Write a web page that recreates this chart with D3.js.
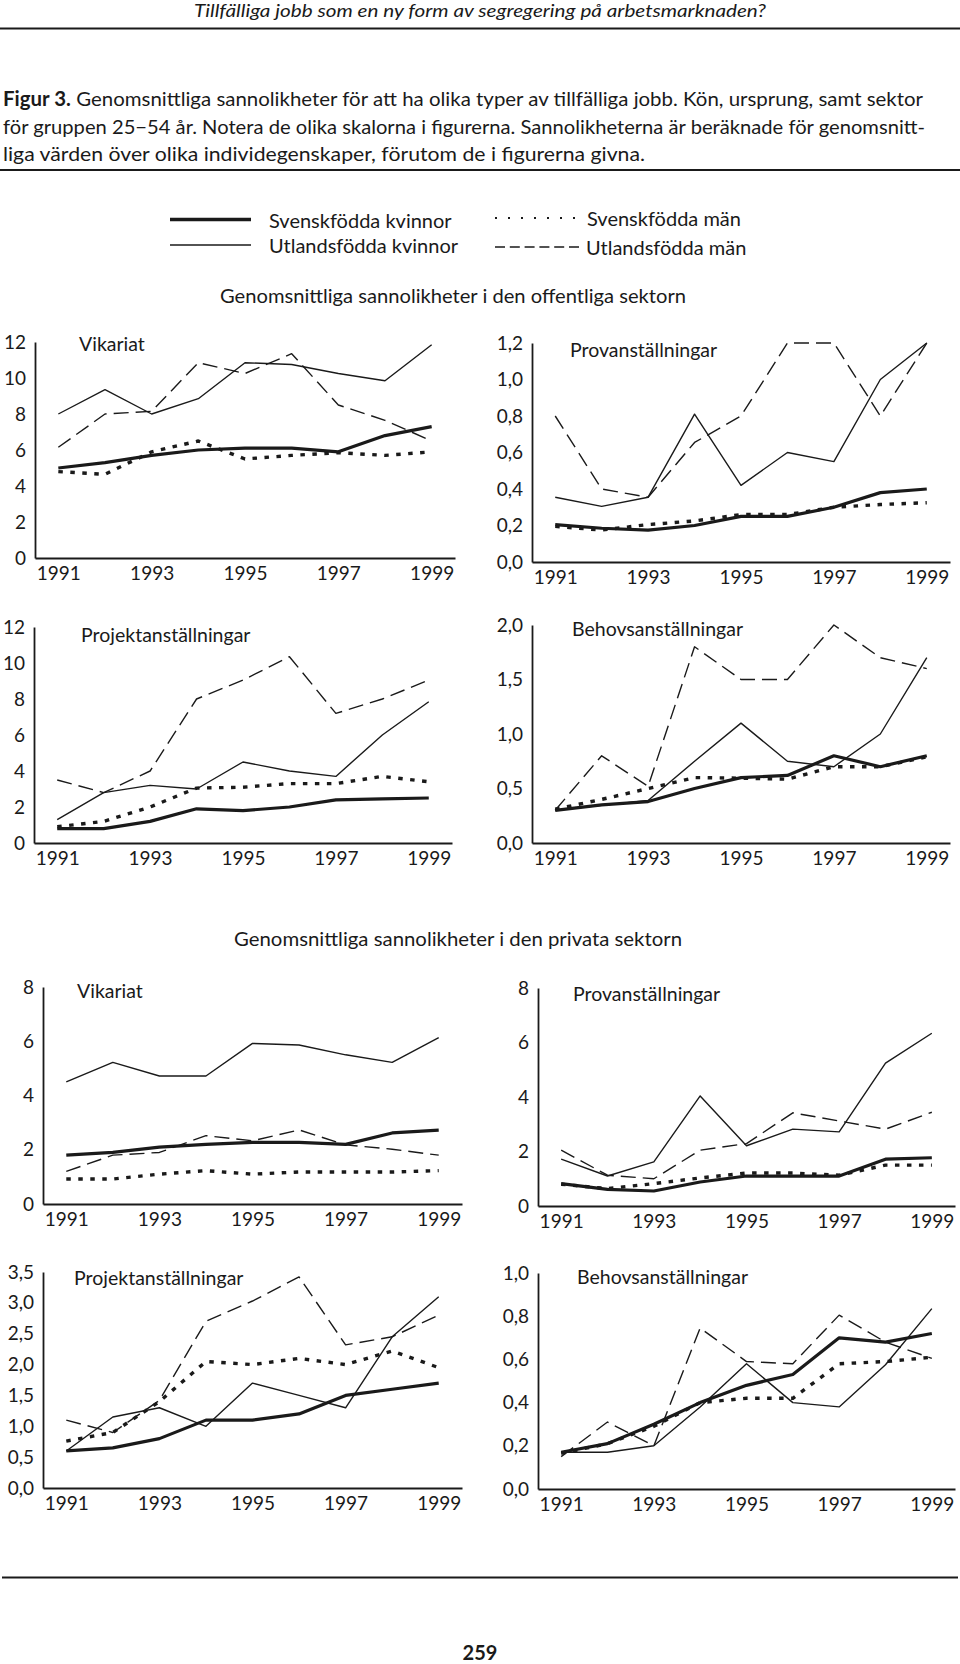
<!DOCTYPE html>
<html><head><meta charset="utf-8">
<script src="https://cdn.jsdelivr.net/npm/d3@7"></script>
<style>
html,body{margin:0;padding:0;background:#fff;}
svg{display:block;}
text{font-family:Lato,"Noto Sans",sans-serif;fill:#1a1a1a;}
</style></head><body>
<svg id="c" width="960" height="1664"></svg>
<script>
// ---------- data ----------
const years = [1991,1992,1993,1994,1995,1996,1997,1998,1999];
const yearLabels = [1991,1993,1995,1997,1999];
const seriesNames = ["Svenskfödda kvinnor","Utlandsfödda kvinnor","Svenskfödda män","Utlandsfödda män"];

// Offentliga sektorn
const offVikSvK = [5.0,5.3,5.7,6.0,6.1,6.1,5.9,6.8,7.3];
const offVikUtK = [8.0,9.35,8.0,8.85,10.85,10.75,10.25,9.85,11.85];
const offVikSvM = [4.8,4.65,5.9,6.5,5.5,5.7,5.85,5.7,5.9];
const offVikUtM = [6.15,8.0,8.15,10.85,10.25,11.35,8.5,7.65,6.5];
const offVikTicks = [0,2,4,6,8,10,12];

const offProvSvK = [0.205,0.185,0.175,0.2,0.25,0.25,0.3,0.38,0.4];
const offProvUtK = [0.355,0.305,0.355,0.81,0.42,0.6,0.55,1.0,1.2];
const offProvSvM = [0.195,0.175,0.205,0.225,0.26,0.26,0.3,0.315,0.325];
const offProvUtM = [0.8,0.4,0.355,0.655,0.8,1.2,1.2,0.8,1.2];
const offProvTicks = [0,0.2,0.4,0.6,0.8,1.0,1.2];

const offProjSvK = [0.8,0.8,1.2,1.9,1.8,2.0,2.4,2.45,2.5];
const offProjUtK = [1.3,2.8,3.2,3.0,4.5,4.0,3.7,6.0,7.85];
const offProjSvM = [0.9,1.2,2.0,3.05,3.1,3.3,3.3,3.7,3.4];
const offProjUtM = [3.5,2.8,4.0,8.0,9.05,10.35,7.2,8.0,9.05];
const offProjTicks = [0,2,4,6,8,10,12];

const offBehSvK = [0.3,0.35,0.38,0.5,0.6,0.62,0.8,0.7,0.8];
const offBehUtK = [0.3,0.345,0.39,0.75,1.1,0.75,0.7,1.0,1.7];
const offBehSvM = [0.31,0.4,0.5,0.6,0.595,0.585,0.7,0.7,0.79];
const offBehUtM = [0.3,0.8,0.52,1.8,1.5,1.5,2.0,1.7,1.6];
const offBehTicks = [0,0.5,1.0,1.5,2.0];

// Privata sektorn
const privVikSvK = [1.8,1.9,2.1,2.2,2.27,2.27,2.2,2.62,2.72];
const privVikUtK = [4.5,5.22,4.72,4.72,5.92,5.86,5.5,5.22,6.13];
const privVikSvM = [0.92,0.92,1.1,1.23,1.1,1.18,1.18,1.18,1.23];
const privVikUtM = [1.2,1.8,1.9,2.52,2.33,2.73,2.18,2.02,1.8];
const privVikTicks = [0,2,4,6,8];

const privProvSvK = [0.82,0.61,0.55,0.88,1.1,1.1,1.1,1.72,1.77];
const privProvUtK = [1.72,1.1,1.62,4.04,2.21,2.82,2.72,5.24,6.34];
const privProvSvM = [0.8,0.64,0.82,1.03,1.21,1.21,1.13,1.5,1.5];
const privProvUtM = [2.05,1.13,1.0,2.05,2.29,3.42,3.12,2.82,3.44];
const privProvTicks = [0,2,4,6,8];

const privProjSvK = [0.6,0.65,0.8,1.1,1.1,1.2,1.5,1.6,1.7];
const privProjUtK = [0.6,1.15,1.3,1.0,1.7,1.5,1.3,2.45,3.1];
const privProjSvM = [0.76,0.9,1.4,2.05,2.0,2.1,2.0,2.22,1.95];
const privProjUtM = [1.1,0.9,1.42,2.7,3.03,3.42,2.32,2.45,2.8];
const privProjTicks = [0,0.5,1.0,1.5,2.0,2.5,3.0,3.5];

const privBehSvK = [0.17,0.21,0.3,0.4,0.48,0.53,0.7,0.68,0.72];
const privBehUtK = [0.17,0.17,0.2,0.38,0.58,0.4,0.38,0.575,0.835];
const privBehSvM = [0.165,0.21,0.29,0.4,0.42,0.42,0.58,0.59,0.61];
const privBehUtM = [0.15,0.31,0.2,0.745,0.59,0.58,0.805,0.68,0.605];
const privBehTicks = [0,0.2,0.4,0.6,0.8,1.0];

// ---------- styles ----------
const styles = [
  {w:3.2, dash:null},          // Svenskfödda kvinnor
  {w:1.4, dash:null},          // Utlandsfödda kvinnor
  {w:3.4, dash:"4.5,7.5"},     // Svenskfödda män
  {w:1.4, dash:"15,7"}         // Utlandsfödda män
];
const ink = "#1a1a1a";

const svg = d3.select("#c");
svg.append("rect").attr("width",960).attr("height",1664).attr("fill","#fff");

// header
svg.append("text").attr("x",480).attr("y",11).attr("dy","0.35em")
  .attr("text-anchor","middle").attr("font-style","italic").attr("font-size",18)
  .attr("textLength",572).attr("lengthAdjust","spacingAndGlyphs")
  .text("Tillfälliga jobb som en ny form av segregering på arbetsmarknaden?");
svg.append("line").attr("x1",0).attr("x2",960).attr("y1",28.5).attr("y2",28.5)
  .attr("stroke",ink).attr("stroke-width",2);

// caption
const cap1 = svg.append("text").attr("x",3).attr("y",99).attr("dy","0.35em").attr("font-size",20)
  .attr("textLength",920).attr("lengthAdjust","spacingAndGlyphs");
cap1.append("tspan").attr("font-weight","bold").text("Figur 3.");
cap1.append("tspan").text(" Genomsnittliga sannolikheter för att ha olika typer av tillfälliga jobb. Kön, ursprung, samt sektor");
svg.append("text").attr("x",3).attr("y",126.5).attr("dy","0.35em").attr("font-size",20)
  .attr("textLength",922).attr("lengthAdjust","spacingAndGlyphs")
  .text("för gruppen 25−54 år. Notera de olika skalorna i figurerna. Sannolikheterna är beräknade för genomsnitt-");
svg.append("text").attr("x",3).attr("y",153.5).attr("dy","0.35em").attr("font-size",20)
  .attr("textLength",642).attr("lengthAdjust","spacingAndGlyphs")
  .text("liga värden över olika individegenskaper, förutom de i figurerna givna.");
svg.append("line").attr("x1",0).attr("x2",960).attr("y1",170).attr("y2",170)
  .attr("stroke",ink).attr("stroke-width",1.8);

// legend
const legendItems = [
  {s:0, x1:170, x2:251, y:219.5, tx:269, lw:3.5, dash:null},
  {s:1, x1:170, x2:251, y:245, tx:269, lw:1.5, dash:null},
  {s:2, x1:495, x2:575, y:218, tx:587, lw:2.2, dash:"2,11"},
  {s:3, x1:495, x2:583, y:247, tx:586, lw:1.5, dash:"10,4.8"}
];
legendItems.forEach(d=>{
  svg.append("line").attr("x1",d.x1).attr("x2",d.x2).attr("y1",d.y).attr("y2",d.y)
    .attr("stroke",ink).attr("stroke-width",d.lw).attr("stroke-dasharray",d.dash);
  svg.append("text").attr("x",d.tx).attr("y",d.y+1).attr("dy","0.35em").attr("font-size",20)
    .text(seriesNames[d.s]);
});

// subtitles
svg.append("text").attr("x",453).attr("y",296).attr("dy","0.35em").attr("text-anchor","middle")
  .attr("font-size",20).attr("textLength",466).attr("lengthAdjust","spacingAndGlyphs")
  .text("Genomsnittliga sannolikheter i den offentliga sektorn");
svg.append("text").attr("x",458).attr("y",939).attr("dy","0.35em").attr("text-anchor","middle")
  .attr("font-size",20).attr("textLength",448).attr("lengthAdjust","spacingAndGlyphs")
  .text("Genomsnittliga sannolikheter i den privata sektorn");

// bottom rule + page number
svg.append("line").attr("x1",2).attr("x2",958).attr("y1",1577.5).attr("y2",1577.5)
  .attr("stroke",ink).attr("stroke-width",2);
svg.append("text").attr("x",480).attr("y",1653).attr("dy","0.35em").attr("text-anchor","middle")
  .attr("font-size",20).attr("font-weight","bold").text("259");

// ---------- panels ----------
const fmtComma = d3.format(".1f");
const fmtInt = d3.format("d");
const panels = [
  {title:"Vikariat", series:[offVikSvK,offVikUtK,offVikSvM,offVikUtM], ticks:offVikTicks, dec:false,
   x0:35, x1:455, yTop:342, yBot:558, tx:79, ty:344},
  {title:"Provanställningar", series:[offProvSvK,offProvUtK,offProvSvM,offProvUtM], ticks:offProvTicks, dec:true,
   x0:532, x1:950, yTop:343, yBot:562, tx:570, ty:350},
  {title:"Projektanställningar", series:[offProjSvK,offProjUtK,offProjSvM,offProjUtM], ticks:offProjTicks, dec:false,
   x0:34, x1:452, yTop:627, yBot:843, tx:81, ty:635},
  {title:"Behovsanställningar", series:[offBehSvK,offBehUtK,offBehSvM,offBehUtM], ticks:offBehTicks, dec:true,
   x0:532, x1:950, yTop:625, yBot:843, tx:572, ty:629},
  {title:"Vikariat", series:[privVikSvK,privVikUtK,privVikSvM,privVikUtM], ticks:privVikTicks, dec:false,
   x0:43, x1:462, yTop:987, yBot:1204, tx:77, ty:991},
  {title:"Provanställningar", series:[privProvSvK,privProvUtK,privProvSvM,privProvUtM], ticks:privProvTicks, dec:false,
   x0:538, x1:955, yTop:988, yBot:1206, tx:573, ty:994},
  {title:"Projektanställningar", series:[privProjSvK,privProjUtK,privProjSvM,privProjUtM], ticks:privProjTicks, dec:true,
   x0:43, x1:462, yTop:1272, yBot:1488, tx:74, ty:1278},
  {title:"Behovsanställningar", series:[privBehSvK,privBehUtK,privBehSvM,privBehUtM], ticks:privBehTicks, dec:true,
   x0:538, x1:955, yTop:1273, yBot:1489, tx:577, ty:1277}
];

panels.forEach(p=>{
  const g = svg.append("g");
  const x = d3.scaleLinear().domain([years[0]-0.5, years[years.length-1]+0.5]).range([p.x0,p.x1]);
  const maxV = p.ticks[p.ticks.length-1];
  const y = d3.scaleLinear().domain([0,maxV]).range([p.yBot,p.yTop]);
  const fmt = p.dec ? (v=>fmtComma(v).replace(".",",")) : fmtInt;

  const ya = g.append("g").attr("transform",`translate(${p.x0},0)`)
    .call(d3.axisLeft(y).tickValues(p.ticks).tickSize(0).tickPadding(9).tickFormat(fmt));
  ya.select(".domain").attr("stroke",ink).attr("stroke-width",1.8);
  ya.selectAll("text").attr("font-family","Lato").attr("font-size",19).attr("fill",ink);

  const xa = g.append("g").attr("transform",`translate(0,${p.yBot})`)
    .call(d3.axisBottom(x).tickValues(yearLabels).tickSize(0).tickPadding(9).tickFormat(d3.format("d")));
  xa.select(".domain").attr("stroke",ink).attr("stroke-width",1.8);
  xa.selectAll("text").attr("font-family","Lato").attr("font-size",19).attr("fill",ink);

  g.append("text").attr("x",p.tx).attr("y",p.ty).attr("dy","0.35em").attr("font-size",19.5)
    .text(p.title);

  const line = d3.line().x((d,i)=>x(years[i])).y(d=>y(d));
  // draw order: thin lines first, thick after
  [3,1,2,0].forEach(si=>{
    g.append("path").datum(p.series[si]).attr("d",line)
      .attr("fill","none").attr("stroke",ink)
      .attr("stroke-width",styles[si].w)
      .attr("stroke-dasharray",styles[si].dash)
      .attr("stroke-linejoin","round");
  });
});
</script>
</body></html>
